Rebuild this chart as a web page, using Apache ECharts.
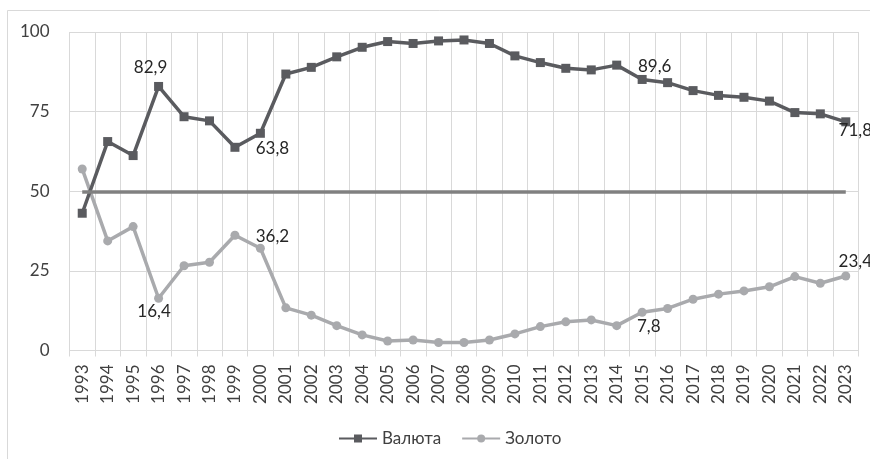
<!DOCTYPE html>
<html>
<head>
<meta charset="utf-8">
<script src="https://cdn.jsdelivr.net/npm/echarts@6/dist/echarts.min.js"></script>
<style>
html,body{margin:0;padding:0;background:#fff;}
#chart{width:870px;height:459px;}
</style>
</head>
<body>
<div id="chart"></div>
<script>
const years = ['1993','1994','1995','1996','1997','1998','1999','2000','2001','2002','2003','2004','2005','2006','2007','2008','2009','2010','2011','2012','2013','2014','2015','2016','2017','2018','2019','2020','2021','2022','2023'];
const currency = [43.1,65.6,61.2,82.9,73.4,72.1,63.8,68.2,86.8,88.9,92.2,95.2,97.0,96.4,97.2,97.5,96.4,92.5,90.4,88.6,88.1,89.6,85.1,84.1,81.6,80.1,79.5,78.3,74.7,74.3,71.8];
const gold = [57.0,34.4,38.9,16.4,26.6,27.7,36.2,32.1,13.4,11.1,7.8,4.9,3.0,3.3,2.5,2.5,3.3,5.2,7.5,9.0,9.6,7.8,12.0,13.2,16.1,17.7,18.7,20.0,23.2,21.1,23.4];
const threshold = 50;
const yTicks = [0, 25, 50, 75, 100];

// label placement (offset of label centre from the point), styling only
const currencyLabels = {'1996':[-8,-18.5], '1999':[37.5,1], '2014':[38,1], '2023':[9.5,9]};
const goldLabels = {'1996':[-4.5,13.5], '1999':[37.5,1], '2014':[32,1], '2023':[9.5,-14]};

const FONT = "Lato, 'Open Sans', 'Noto Sans', sans-serif";
const TXT = '#404040';
const fmt = v => v.toFixed(1).replace('.', ',');

function buildData(values, labels) {
  return values.map((v, i) => {
    const off = labels[years[i]];
    if (!off) return v;
    return {
      value: v,
      label: {
        show: true, position: 'inside', offset: off,
        formatter: fmt(v), color: '#262626', fontSize: 17, fontFamily: FONT
      }
    };
  });
}

const chart = echarts.init(document.getElementById('chart'), null, {renderer: 'canvas'});
chart.setOption({
  animation: false,
  backgroundColor: '#fff',
  graphic: [{
    type: 'rect', shape: {x: 7.5, y: 10.5, width: 900, height: 500},
    style: {fill: 'none', stroke: '#d9d9d9', lineWidth: 1}, silent: true, z: -10
  }],
  grid: {left: 69.5, top: 32, width: 789, height: 318.5, containLabel: false},
  legend: {
    left: 333, top: 425, itemWidth: 38, itemHeight: 10, itemGap: 20,
    data: ['Валюта', 'Золото'],
    textStyle: {color: TXT, fontSize: 17, fontFamily: FONT}
  },
  xAxis: {
    type: 'category', data: years, boundaryGap: true,
    axisLine: {show: true, lineStyle: {color: '#d9d9d9', width: 1}},
    axisTick: {show: true, length: 6, interval: 0, lineStyle: {color: '#d9d9d9'}},
    splitLine: {show: true, interval: 0, lineStyle: {color: '#d9d9d9', width: 1}},
    axisLabel: {interval: 0, rotate: 90, margin: 14, color: TXT, fontSize: 17, fontFamily: FONT}
  },
  yAxis: {
    type: 'value', min: yTicks[0], max: yTicks[yTicks.length - 1], interval: 25,
    axisLine: {show: false}, axisTick: {show: false},
    splitLine: {show: true, lineStyle: {color: '#d9d9d9', width: 1}},
    axisLabel: {margin: 20, color: TXT, fontSize: 17, fontFamily: FONT}
  },
  series: [
    {
      name: 'Порог', type: 'line', data: [], silent: true, z: 1,
      markLine: {
        silent: true, symbol: 'none', animation: false,
        label: {show: false},
        lineStyle: {color: '#808080', width: 3.5, type: 'solid'},
        data: [[{coord: [years[0], threshold]}, {coord: [years[years.length - 1], threshold]}]]
      }
    },
    {
      name: 'Валюта', type: 'line', data: buildData(currency, currencyLabels),
      symbol: 'rect', symbolSize: 9, showAllSymbol: true, z: 3,
      color: '#5a5b5f',
      lineStyle: {color: '#5a5b5f', width: 3.5},
      itemStyle: {color: '#5a5b5f'},
      label: {show: false}
    },
    {
      name: 'Золото', type: 'line', data: buildData(gold, goldLabels),
      symbol: 'circle', symbolSize: 9, showAllSymbol: true, z: 2,
      color: '#a9aaad',
      lineStyle: {color: '#a9aaad', width: 3.5},
      itemStyle: {color: '#a9aaad'},
      label: {show: false}
    }
  ]
});
</script>
</body>
</html>
